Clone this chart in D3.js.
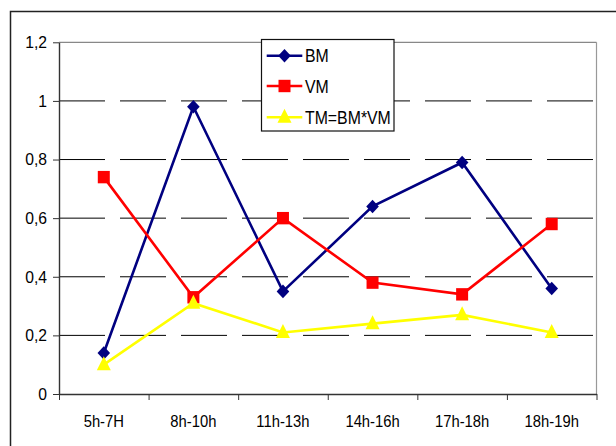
<!DOCTYPE html>
<html>
<head>
<meta charset="utf-8">
<script src="https://cdn.jsdelivr.net/npm/d3@7"></script>
<style>
  html, body { margin: 0; padding: 0; background: #fff; }
  svg { display: block; font-family: Arial, "Liberation Sans", sans-serif; }
</style>
</head>
<body>
<svg id="chart" width="616" height="446"></svg>
<script>
// Time slots and the three measured series
const categories = ["5h-7H", "8h-10h", "11h-13h", "14h-16h", "17h-18h", "18h-19h"];
const bmValues = [0.14, 0.98, 0.35, 0.64, 0.79, 0.36];
const vmValues = [0.74, 0.33, 0.60, 0.38, 0.34, 0.58];
const tmValues = [0.10, 0.31, 0.21, 0.24, 0.27, 0.21];
const seriesNames = ["BM", "VM", "TM=BM*VM"];
const yTicks = [0, 0.2, 0.4, 0.6, 0.8, 1, 1.2];

const seriesColors = ["#000080", "#ff0000", "#ffff00"];
const seriesShapes = ["diamond", "square", "triangle"];
const seriesValues = [bmValues, vmValues, tmValues];

const svg = d3.select("#chart");
const plot = { left: 59, right: 596.5, top: 42.3, bottom: 394 };

// condense a text element horizontally to a share of its natural width
function condense(sel, factor) {
  sel.each(function () {
    const w = this.getComputedTextLength();
    d3.select(this).attr("textLength", w * factor).attr("lengthAdjust", "spacingAndGlyphs");
  });
}

// outer chart frame (runs past the right/bottom edge)
svg.append("rect")
  .attr("x", 10.5).attr("y", 11.5)
  .attr("width", 700).attr("height", 500)
  .attr("fill", "#fff").attr("stroke", "#222").attr("stroke-width", 1.5);

const x = d3.scaleBand().domain(categories).range([plot.left, plot.right]).padding(0);
const xEdge = d3.scaleLinear().domain([0, categories.length]).range([plot.left, plot.right]);
const y = d3.scaleLinear().domain([0, 1.2]).range([plot.bottom, plot.top]);
const cx = c => x(c) + x.bandwidth() / 2;

// dashed horizontal gridlines
svg.append("g").selectAll("line")
  .data(yTicks.filter(v => v > 0 && v < 1.2))
  .join("line")
  .attr("x1", plot.left).attr("x2", plot.right)
  .attr("y1", d => y(d)).attr("y2", d => y(d))
  .attr("stroke", "#000").attr("stroke-width", 1)
  .attr("stroke-dasharray", "46,15");

// top and right edge of the plot area
svg.append("line")
  .attr("x1", plot.left).attr("x2", plot.right)
  .attr("y1", y(1.2)).attr("y2", y(1.2))
  .attr("stroke", "#888").attr("stroke-width", 1.2);
svg.append("line")
  .attr("x1", plot.right).attr("x2", plot.right)
  .attr("y1", y(1.2)).attr("y2", plot.bottom)
  .attr("stroke", "#999").attr("stroke-width", 1.2);

// y axis
const yAxis = svg.append("g")
  .attr("transform", `translate(${plot.left},0)`)
  .call(d3.axisLeft(y).tickValues(yTicks)
    .tickFormat(d => String(d).replace(".", ","))
    .tickSize(6).tickSizeOuter(0).tickPadding(6));
yAxis.select(".domain").attr("stroke", "#333").attr("stroke-width", 1.4);
yAxis.selectAll(".tick line").attr("stroke", "#333");
yAxis.selectAll("text").attr("font-size", 16.5).attr("fill", "#000")
  .attr("font-family", "Arial, 'Liberation Sans', sans-serif")
  .call(condense, 0.95);

// x axis: boundary ticks
const xTicksAxis = svg.append("g")
  .attr("transform", `translate(0,${plot.bottom})`)
  .call(d3.axisBottom(xEdge).tickValues(d3.range(categories.length + 1))
    .tickFormat("").tickSize(6).tickSizeOuter(0));
xTicksAxis.select(".domain").attr("stroke", "#333").attr("stroke-width", 1.4);
xTicksAxis.selectAll(".tick line").attr("stroke", "#333");

// x axis: category labels
const xLabels = svg.append("g")
  .attr("transform", `translate(0,${plot.bottom})`)
  .call(d3.axisBottom(x).tickSize(0).tickPadding(21));
xLabels.select(".domain").remove();
xLabels.selectAll("text").attr("font-size", 17).attr("fill", "#000")
  .attr("font-family", "Arial, 'Liberation Sans', sans-serif")
  .call(condense, 0.87);

// marker shapes
function markerPath(shape) {
  if (shape === "diamond") return "M0,-6.8L6.3,0L0,6.8L-6.3,0Z";
  if (shape === "square") return "M-6,-6.2H6V6.2H-6Z";
  return "M0,-8.5L7,5.5H-7Z";
}

const line = d3.line().x((d, i) => cx(categories[i])).y(d => y(d));

seriesValues.forEach((vals, s) => {
  const g = svg.append("g");
  g.append("path").datum(vals)
    .attr("d", line)
    .attr("fill", "none")
    .attr("stroke", seriesColors[s])
    .attr("stroke-width", 2.6)
    .attr("stroke-linejoin", "miter");
  g.selectAll("path.mk").data(vals).join("path")
    .attr("class", "mk")
    .attr("d", markerPath(seriesShapes[s]))
    .attr("transform", (d, i) => `translate(${cx(categories[i])},${y(d)})`)
    .attr("fill", seriesColors[s]);
});

// legend
const legend = svg.append("g");
legend.append("rect")
  .attr("x", 261.5).attr("y", 39.5)
  .attr("width", 132.5).attr("height", 91.5)
  .attr("fill", "#fff").attr("stroke", "#111").attr("stroke-width", 1.2);
const rowY = [55.7, 86, 117.3];
seriesNames.forEach((name, s) => {
  const r = legend.append("g").attr("transform", `translate(0,${rowY[s]})`);
  r.append("line").attr("x1", 266.7).attr("x2", 302.3).attr("y1", 0).attr("y2", 0)
    .attr("stroke", seriesColors[s]).attr("stroke-width", 2.6);
  r.append("path").attr("d", markerPath(seriesShapes[s]))
    .attr("transform", "translate(284.5,0)")
    .attr("fill", seriesColors[s]);
  r.append("text").attr("x", 305).attr("y", 6.5)
    .attr("font-size", 18).attr("fill", "#000")
    .text(name)
    .call(condense, 0.88);
});
</script>
</body>
</html>
